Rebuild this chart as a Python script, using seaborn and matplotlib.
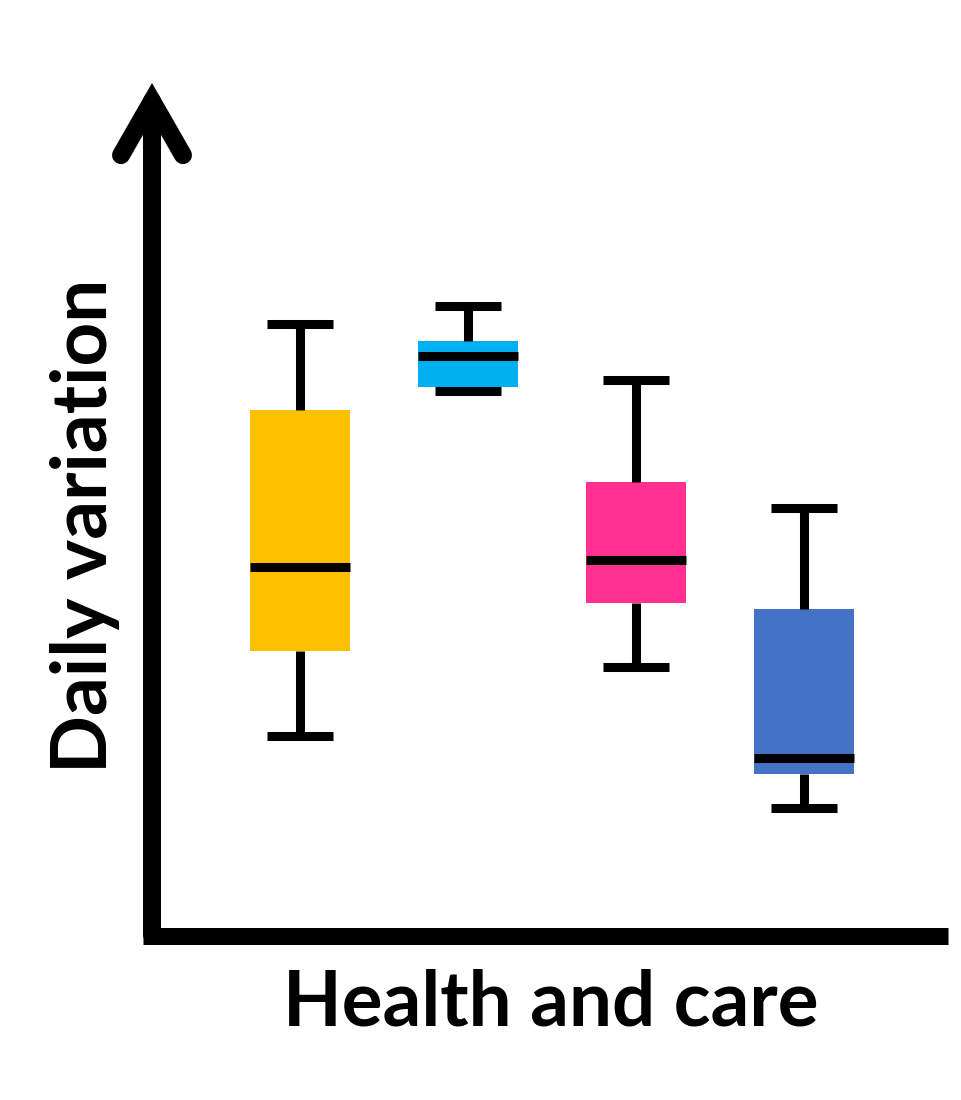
import matplotlib
matplotlib.use("Agg")
import matplotlib.pyplot as plt
from matplotlib.lines import Line2D
import pandas as pd
import seaborn as sns

# categories and colours of the four boxes
groups = ["A", "B", "C", "D"]
colors = ["#FFC000", "#00B0F0", "#FF3090", "#4472C4"]

# five-number summaries
lows = [1.99, 5.44, 2.68, 1.27]
q1s = [2.84, 5.48, 3.32, 1.61]
medians = [3.68, 5.79, 3.75, 1.77]
q3s = [5.25, 5.94, 4.53, 3.26]
highs = [6.11, 6.29, 5.55, 4.27]

x_label = "Health and care"
y_label = "Daily variation"

# five points per group -> quartiles land exactly on the summary values
rows = []
for g, lo, a, m, b, hi in zip(groups, lows, q1s, medians, q3s, highs):
    for v in (lo, a, m, b, hi):
        rows.append({"group": g, "value": v})
df = pd.DataFrame(rows)

sns.set_style("white")
plt.rcParams["font.family"] = ["Lato", "DejaVu Sans"]

W, H = 962, 1100
fig = plt.figure(figsize=(W / 100, H / 100), dpi=100)
ax = fig.add_axes([152 / W, 165 / H, 796 / W, 852 / H])

lw = 6.5
line_kws = dict(linewidth=lw, color="black", solid_capstyle="butt")
sns.boxplot(data=df, x="group", y="value", hue="group", palette=colors,
            legend=False, width=0.6, whis=(0, 100), saturation=1, ax=ax,
            linecolor="black", linewidth=lw, capwidths=0.39,
            boxprops=dict(linewidth=0, edgecolor="none"),
            whiskerprops=line_kws, capprops=line_kws, medianprops=line_kws,
            showfliers=False)

ax.set_xlim(-0.881, 3.857)
ax.set_ylim(0, 8.52)
ax.set_xticks([])
ax.set_yticks([])
ax.set_xlabel("")
ax.set_ylabel("")
sns.despine(ax=ax, left=True, bottom=True)

# axis lines: flat x-axis, y-axis with open arrow head
axis_pt = 17 * 72 / 100
fig.add_artist(Line2D([143 / W, 948 / W], [164.5 / H, 164.5 / H],
                      transform=fig.transFigure, color="black",
                      linewidth=axis_pt, solid_capstyle="butt"))
ax.annotate("", xy=(152, H - 83), xytext=(152, H - 935),
            xycoords="figure pixels", textcoords="figure pixels",
            arrowprops=dict(arrowstyle="->,head_length=38.9,head_width=22.3",
                            mutation_scale=1, linewidth=18 * 72 / 100,
                            color="black", shrinkA=0, shrinkB=0,
                            capstyle="round", joinstyle="miter"),
            annotation_clip=False)

fig.text(551 / W, (H - 1025) / H, x_label, ha="center", va="baseline",
         fontsize=55, fontweight="bold", color="black")
fig.text(107 / W, (H - 526) / H, y_label, ha="center", va="baseline",
         rotation=90, rotation_mode="anchor", fontsize=55, fontweight="bold",
         color="black")

fig.savefig("out.png", dpi=100)
